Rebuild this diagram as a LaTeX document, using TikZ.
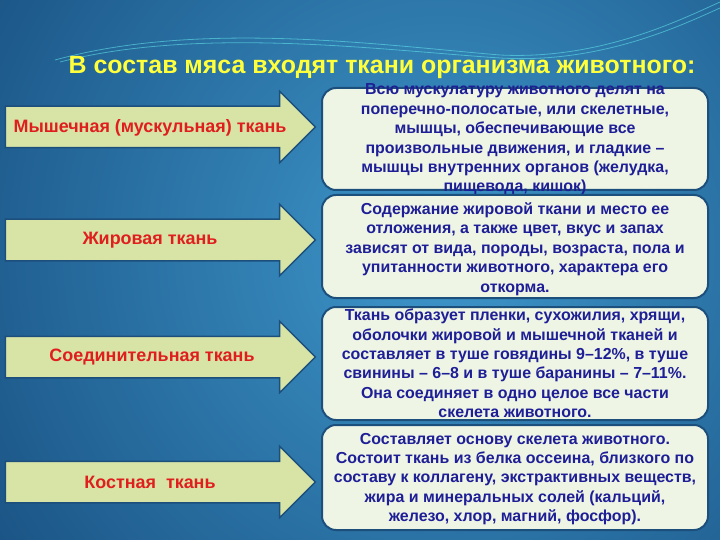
\documentclass[tikz,border=0pt]{standalone}
\usepackage{fontspec}
\setmainfont{Liberation Sans}
\usetikzlibrary{shapes.arrows,positioning}
\definecolor{bgdark}{HTML}{15497A}
\definecolor{bglight}{HTML}{3E97CB}
\definecolor{arrowfill}{HTML}{D7E4A6}
\definecolor{edgeblue}{HTML}{1D4F7C}
\definecolor{notefill}{HTML}{EEF5E5}
\definecolor{tissuered}{HTML}{E01E1E}
\definecolor{notenavy}{HTML}{1E1E96}
\definecolor{titleyellow}{HTML}{FFFF3C}
\definecolor{swoosh}{HTML}{5FE0E8}
\tikzstyle{tissue} =
  [single arrow, draw=edgeblue, line width=1.5bp, fill=arrowfill,
   minimum height=310bp, inner xsep=0pt, inner ysep=20bp,
   single arrow head extend=15bp]
\tikzstyle{tissuelabel} =
  [text=tissuered, font=\bfseries\fontsize{18}{21}\selectfont]
\tikzstyle{note} =
  [rectangle, draw=edgeblue, line width=2bp, fill=notefill,
   rounded corners=14bp, minimum width=386bp]
\tikzstyle{notetext} =
  [text=notenavy, align=center, font=\bfseries\fontsize{16}{19.5}\selectfont]

\begin{document}
\begin{tikzpicture}[x=1bp, y=-1bp]
  \useasboundingbox (0,0) rectangle (720,540);
  \fill [bgdark] (0,0) rectangle (720,540);
  \begin{scope}
    \clip (0,0) rectangle (720,540);
    \shade [inner color=bglight, outer color=bgdark] (440,250) circle (620);
  \end{scope}
  % waves at the top
  \draw [swoosh, opacity=.6, line width=.8bp]
    (55,60) .. controls (200,20) and (380,45) .. (500,55)
    .. controls (600,60) and (680,20) .. (720,2);
  \draw [swoosh, opacity=.6, line width=.8bp]
    (60,62) .. controls (200,26) and (380,50) .. (500,58)
    .. controls (600,64) and (680,26) .. (720,8);

  \node [text=titleyellow, font=\bfseries\fontsize{25}{29}\selectfont]
    (title) at (382,68) {В состав мяса входят ткани организма животного:};

  % left: tissues
  \node [tissue] (a1) at (150,127) {};
  \node [tissuelabel] (l1) at (150,128) {Мышечная (мускульная) ткань};
  \node [tissue] (a2) at (150,240) {};
  \node [tissuelabel] (l2) at (150,240) {Жировая ткань};
  \node [tissue] (a3) at (150,357) {};
  \node [tissuelabel] (l3) at (152,357) {Соединительная ткань};
  \node [tissue] (a4) at (150,482) {};
  \node [tissuelabel] (l4) at (150,482) {Костная\ \ ткань};

  % right: notes
  \node [note, minimum height=102bp] (b1) at (515,139) {};
  \node [notetext] (t1) at (515,139.5) {Всю мускулатуру животного делят на\\
    поперечно-полосатые, или скелетные,\\ мышцы, обеспечивающие все\\
    произвольные движения, и гладкие --\\
    мышцы внутренних органов (желудка,\\ пищевода, кишок)};
  \node [note, minimum height=103bp] (b2) at (515,246.5) {};
  \node [notetext] (t2) at (515,249) {Содержание жировой ткани и место ее\\
    отложения, а также цвет, вкус и запах\\
    зависят от вида, породы, возраста, пола и\\
    упитанности животного, характера его\\ откорма.};
  \node [note, minimum height=113bp] (b3) at (515,363.5) {};
  \node [notetext] (t3) at (515,363.5) {Ткань образует пленки, сухожилия, хрящи,\\
    оболочки жировой и мышечной тканей и\\
    составляет в туше говядины 9--12\%, в туше\\
    свинины -- 6--8 и в туше баранины -- 7--11\%.\\
    Она соединяет в одно целое все части\\ скелета животного.};
  \node [note, minimum height=105bp] (b4) at (515,477.5) {};
  \node [notetext] (t4) at (515,479) {Составляет основу скелета животного.\\
    Состоит ткань из белка оссеина, близкого по\\
    составу к коллагену, экстрактивных веществ,\\
    жира и минеральных солей (кальций,\\
    железо, хлор, магний, фосфор).};
\end{tikzpicture}
\end{document}
